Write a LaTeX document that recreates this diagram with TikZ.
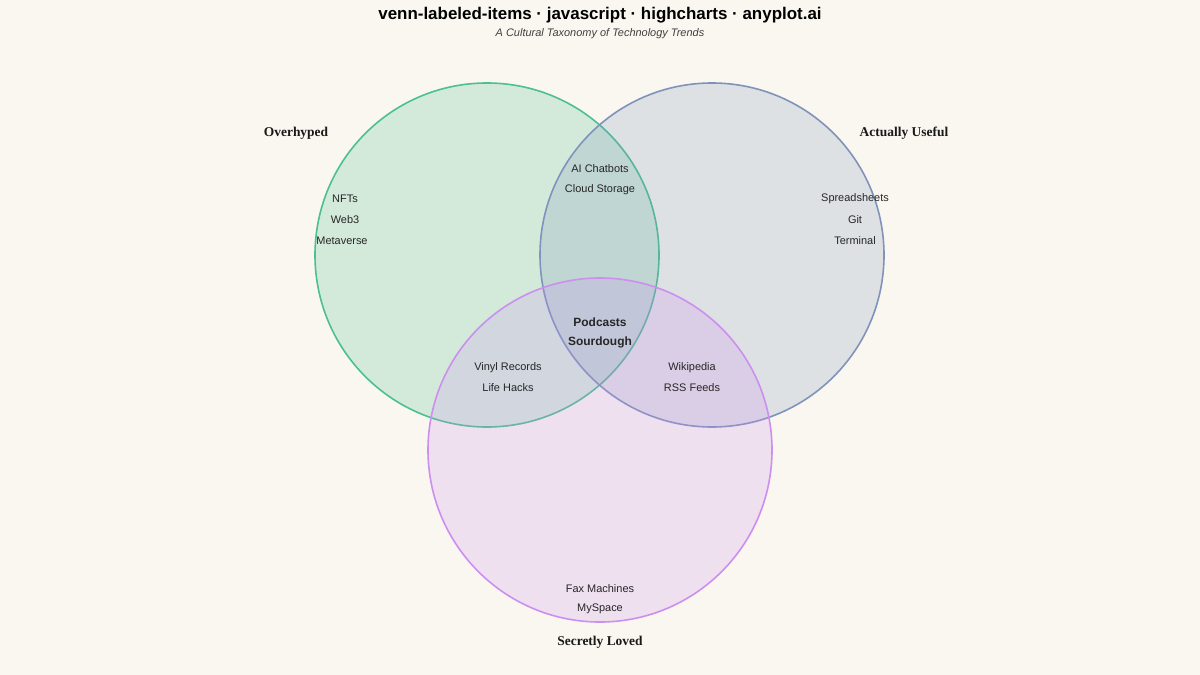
\documentclass[tikz,border=0pt]{standalone}
\usepackage{fontspec}
\setmainfont{Liberation Sans}
\newfontfamily\serifb{Liberation Serif}
\begin{document}
\begin{tikzpicture}[x=1bp,y=-1bp,
  item/.style={font=\fontsize{11}{13}\selectfont,text=black!85},
  setlab/.style={font=\serifb\bfseries\fontsize{13.5}{16}\selectfont,text=black!90},
  circ/.style={circle,minimum size=344bp,line width=1.6bp,inner sep=0pt}]
\definecolor{bg}{HTML}{FAF7F0}
\definecolor{gs}{HTML}{4CBF94}
\definecolor{bs}{HTML}{7F93BB}
\definecolor{ps}{HTML}{CC8FF0}
\fill[bg] (0,0) rectangle (1200,675);
\useasboundingbox (0,0) rectangle (1200,675);
\node[circ,draw=gs,fill=gs,fill opacity=0.22] (A) at (487,255) {};
\node[circ,draw=bs,fill=bs,fill opacity=0.22] (B) at (712,255) {};
\node[circ,draw=ps,fill=ps,fill opacity=0.22] (C) at (600,450) {};
\node[font=\bfseries\fontsize{17}{20}\selectfont] (t) at (600,15) {venn-labeled-items · javascript · highcharts · anyplot.ai};
\node[font=\itshape\fontsize{11}{13}\selectfont,text=black!75] (st) at (600,34) {A Cultural Taxonomy of Technology Trends};
\node[setlab] (la) at (296,133) {Overhyped};
\node[setlab] (lb) at (904,133) {Actually Useful};
\node[setlab] (lc) at (600,642) {Secretly Loved};
\node[item] (a1) at (345,199) {NFTs};
\node[item] (a2) at (345,220) {Web3};
\node[item] (a3) at (342,241) {Metaverse};
\node[item] (b1) at (855,199) {Spreadsheets};
\node[item] (b2) at (855,220) {Git};
\node[item] (b3) at (855,241) {Terminal};
\node[item] (ab1) at (600,169) {AI Chatbots};
\node[item] (ab2) at (600,190) {Cloud Storage};
\node[item,font=\bfseries\fontsize{12}{14}\selectfont] (m1) at (600,322) {Podcasts};
\node[item,font=\bfseries\fontsize{12}{14}\selectfont] (m2) at (600,342) {Sourdough};
\node[item] (ac1) at (508,368) {Vinyl Records};
\node[item] (ac2) at (508,388) {Life Hacks};
\node[item] (bc1) at (692,368) {Wikipedia};
\node[item] (bc2) at (692,388) {RSS Feeds};
\node[item] (c1) at (600,589) {Fax Machines};
\node[item] (c2) at (600,609) {MySpace};
\end{tikzpicture}
\end{document}
